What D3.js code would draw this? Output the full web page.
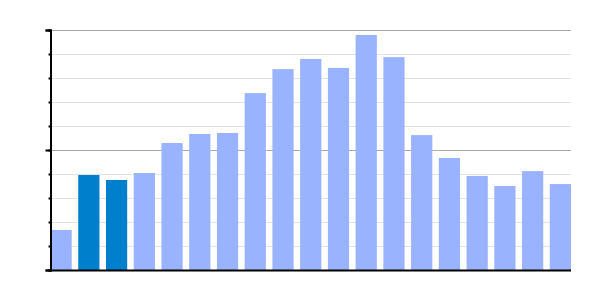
<!DOCTYPE html>
<html>
<head>
<meta charset="utf-8">
<script src="https://cdn.jsdelivr.net/npm/d3@7"></script>
<style>
  body { margin: 0; background: white; }
</style>
</head>
<body>
<script>
// bar data (0..100 scale)
const categories = d3.range(1, 20).map(String);
const values = [16.7, 39.6, 37.5, 40.4, 52.9, 56.7, 57.1, 73.7, 83.7, 87.9,
                84.2, 97.9, 88.7, 56.2, 46.7, 39.2, 35.0, 41.2, 35.8];
const highlighted = ["2", "3"];
const majorTicks = [0, 50, 100];
const minorTicks = d3.range(0, 101, 10);

const width = 600, height = 300;
const margin = {top: 30, right: 29, bottom: 30, left: 50};

const svg = d3.select("body").append("svg")
              .attr("width", width)
              .attr("height", height);

const x = d3.scaleBand()
            .domain(categories)
            .range([margin.left + 0.5, width - margin.right])
            .paddingInner(0.235)
            .paddingOuter(0);

const y = d3.scaleLinear()
            .domain([0, 100])
            .range([height - margin.bottom, margin.top]);

// gridlines
svg.append("g").selectAll("line")
   .data(minorTicks.filter(d => !majorTicks.includes(d)))
   .join("line")
   .attr("x1", margin.left).attr("x2", width - margin.right)
   .attr("y1", d => y(d) + 0.5).attr("y2", d => y(d) + 0.5)
   .attr("stroke", "#e3e3e3");

svg.append("g").selectAll("line")
   .data(majorTicks.filter(d => d > 0))
   .join("line")
   .attr("x1", margin.left).attr("x2", width - margin.right)
   .attr("y1", d => y(d) + 0.5).attr("y2", d => y(d) + 0.5)
   .attr("stroke", "#aaaaaa");

// bars
svg.append("g").selectAll("rect")
   .data(values)
   .join("rect")
   .attr("x", (d, i) => x(categories[i]))
   .attr("width", x.bandwidth())
   .attr("y", d => y(d))
   .attr("height", d => y(0) - y(d))
   .attr("fill", (d, i) => highlighted.includes(categories[i]) ? "#0080cc" : "#99b3ff");

// y axis with minor and major ticks, no labels
const axis = svg.append("g").attr("transform", `translate(${margin.left + 0.5},0)`);
axis.call(d3.axisLeft(y).tickValues(minorTicks).tickSize(2).tickFormat(""));
axis.append("g").call(d3.axisLeft(y).tickValues(majorTicks).tickSize(5).tickFormat(""));
axis.selectAll(".domain").attr("stroke", "#000").attr("stroke-width", 2);
axis.selectAll(".tick line").attr("stroke", "#000").attr("stroke-width", 2);

// x baseline
svg.append("line")
   .attr("x1", margin.left).attr("x2", width - margin.right)
   .attr("y1", y(0) + 0.5).attr("y2", y(0) + 0.5)
   .attr("stroke", "#000").attr("stroke-width", 2);
</script>
</body>
</html>
